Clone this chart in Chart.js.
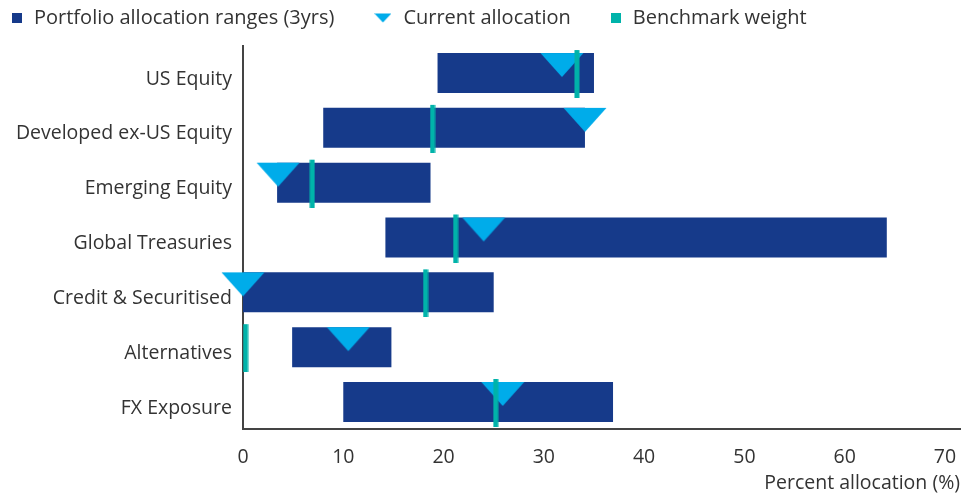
<!DOCTYPE html>
<html>
<head>
<meta charset="utf-8">
<script src="https://cdn.jsdelivr.net/npm/chart.js@4.4.1/dist/chart.umd.min.js"></script>
<style>
  body { margin: 0; background: #fff; }
  #wrap { width: 973px; height: 495px; }
</style>
</head>
<body>
<div id="wrap"><canvas id="alloc"></canvas></div>
<script>
// data
var categories = ['US Equity', 'Developed ex-US Equity', 'Emerging Equity', 'Global Treasuries', 'Credit & Securitised', 'Alternatives', 'FX Exposure'];
var rangeLow  = [19.4, 8.0, 3.4, 14.2, 0, 4.9, 10.0];
var rangeHigh = [35.0, 34.1, 18.7, 64.2, 25.0, 14.8, 36.9];
var current   = [31.8, 34.1, 3.5, 24.0, 0, 10.5, 25.9];
var benchmark = [33.3, 18.9, 6.9, 21.2, 18.2, 0.25, 25.2];
var xTicks    = [0, 10, 20, 30, 40, 50, 60, 70];

var NAVY = '#163a8a', CYAN = '#00acea', TEAL = '#00b3aa', TEXT = '#333';
var FONT = "'Open Sans', sans-serif";

function makeCanvas(w, h, draw) {
    var c = document.createElement('canvas');
    c.width = w; c.height = h;
    draw(c.getContext('2d'));
    return c;
}

// marker images (centred on the data point)
var triMarker = makeCanvas(44, 48, function(g) {
    g.fillStyle = CYAN;
    g.beginPath(); g.moveTo(0.5, 4); g.lineTo(43.5, 4); g.lineTo(22, 28); g.closePath(); g.fill();
});
var benchMarker = makeCanvas(6, 50, function(g) {
    g.fillStyle = TEAL;
    g.fillRect(0.5, 2, 5, 48);
});

// legend icons
var legendIcons = [
    makeCanvas(10, 10, function(g) { g.fillStyle = NAVY; g.fillRect(0, 0, 10, 10); }),
    makeCanvas(17, 10, function(g) {
        g.fillStyle = CYAN;
        g.beginPath(); g.moveTo(0, 0.5); g.lineTo(17, 0.5); g.lineTo(8.5, 9.5); g.closePath(); g.fill();
    }),
    makeCanvas(10, 10, function(g) { g.fillStyle = TEAL; g.fillRect(0, 0, 10, 10); })
];

// one-row legend at the top left
var legendRow = {
    id: 'legendRow',
    afterDraw: function(chart) {
        var ctx = chart.ctx;
        var x = 12, y = 18;
        ctx.save();
        ctx.font = '20px ' + FONT;
        ctx.textBaseline = 'middle';
        ctx.fillStyle = TEXT;
        chart.data.datasets.forEach(function(ds, i) {
            var icon = legendIcons[i];
            ctx.drawImage(icon, x, Math.round(y - icon.height / 2));
            x += icon.width + 12;
            ctx.fillText(ds.label, x, y);
            x += ctx.measureText(ds.label).width + 40;
        });
        ctx.restore();
    }
};

Chart.defaults.font.family = FONT;
Chart.defaults.font.size = 19.5;
Chart.defaults.color = TEXT;

var ctx = document.getElementById('alloc').getContext('2d');
var myChart = new Chart(ctx, {
    type: 'bar',
    data: {
        labels: categories,
        datasets: [{
            label: 'Portfolio allocation ranges (3yrs)',
            data: categories.map(function(c, i) { return [rangeLow[i], rangeHigh[i]]; }),
            backgroundColor: NAVY,
            borderWidth: 0,
            barPercentage: 0.73,
            categoryPercentage: 1,
            order: 3
        }, {
            type: 'line',
            label: 'Current allocation',
            data: categories.map(function(c, i) { return {x: current[i], y: c}; }),
            showLine: false,
            pointStyle: triMarker,
            clip: false,
            order: 2
        }, {
            type: 'line',
            label: 'Benchmark weight',
            data: categories.map(function(c, i) { return {x: benchmark[i], y: c}; }),
            showLine: false,
            pointStyle: benchMarker,
            clip: false,
            order: 1
        }]
    },
    options: {
        indexAxis: 'y',
        responsive: true,
        maintainAspectRatio: false,
        animation: false,
        layout: { padding: { top: 45.6, right: 13, left: 0, bottom: 0 } },
        plugins: {
            legend: { display: false },
            tooltip: { enabled: true }
        },
        scales: {
            y: {
                type: 'category',
                grid: { display: false },
                border: { display: true, color: '#444', width: 2 },
                ticks: { padding: 3, labelOffset: 6, color: TEXT },
                afterFit: function(scale) { scale.width = 243; }
            },
            x: {
                type: 'linear',
                min: 0,
                max: 71.5,
                grid: { display: false },
                border: { display: true, color: '#444', width: 2 },
                ticks: {
                    stepSize: 10,
                    includeBounds: false,
                    padding: 8,
                    color: TEXT,
                    callback: function(v) { return xTicks.indexOf(v) >= 0 ? v : ''; }
                },
                title: {
                    display: true,
                    text: 'Percent allocation (%)',
                    align: 'end',
                    color: TEXT,
                    padding: { top: 4, bottom: 0 }
                },
                afterFit: function(scale) { scale.height = 65.6; }
            }
        }
    },
    plugins: [legendRow]
});
</script>
</body>
</html>
